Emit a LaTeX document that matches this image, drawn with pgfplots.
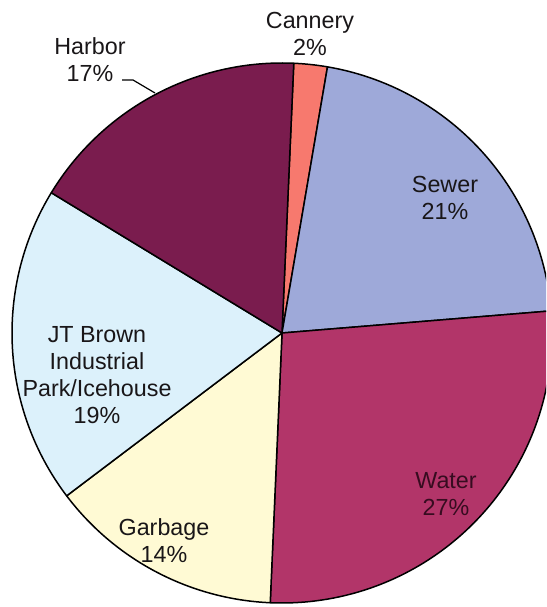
\documentclass[border=0pt]{standalone}
\usepackage{pgfplots}
\pgfplotsset{compat=1.18}
\usepackage{pgfplotstable}
\usepackage{fontspec}
\setmainfont{Liberation Sans}
\definecolor{cHarbor}{RGB}{122,28,78}
\definecolor{cCannery}{RGB}{247,121,110}
\definecolor{cSewer}{RGB}{158,169,217}
\definecolor{cWater}{RGB}{178,53,105}
\definecolor{cGarbage}{RGB}{255,250,212}
\definecolor{cJT}{RGB}{220,241,251}
\definecolor{txt}{RGB}{25,22,24}
\tikzset{lbl/.style={font=\fontsize{23.3}{27}\selectfont, text=txt, align=center}}
% slice percentages, clockwise from the top
\pgfplotstableread{
name cum value
Cannery 0 2
Sewer 2 21
Water 23 27
Garbage 50 14
JTBrown 64 19
Harbor 83 17
}\piedata
\newcommand{\slice}[2]{% row, colour
  \pgfplotstablegetelem{#1}{cum}\of\piedata \let\cum\pgfplotsretval
  \pgfplotstablegetelem{#1}{value}\of\piedata \let\val\pgfplotsretval
  \pgfmathsetmacro\sa{87.5-3.6*\cum}%
  \pgfmathsetmacro\sb{87.5-3.6*(\cum+\val)}%
  \edef\tmp{\noexpand\addplot[fill=#2, draw=black, line width=1.5pt, line join=round,
    data cs=polar, domain=\sb:\sa, samples=80] ({x},{270}) -- (axis cs:0,0) -- cycle;}%
  \tmp
}
\begin{document}
\begin{tikzpicture}
\begin{axis}[
  x=1pt, y=1pt,
  xmin=-282, xmax=264, ymin=-274, ymax=333,
  hide axis, clip=true,
]
\slice{0}{cCannery}
\slice{1}{cSewer}
\slice{2}{cWater}
\slice{3}{cGarbage}
\slice{4}{cJT}
\slice{5}{cHarbor}
\node[lbl] at (axis cs:28,299.5) {Cannery\\2\%};
\node[lbl] at (axis cs:-192,273.5) {Harbor\\17\%};
\node[lbl] at (axis cs:163,135.5) {Sewer\\21\%};
\node[lbl] at (axis cs:-185,-42) {JT Brown\\Industrial\\Park/Icehouse\\19\%};
\node[lbl] at (axis cs:-118,-208) {Garbage\\14\%};
\node[lbl, text={rgb,255:red,55;green,12;blue,32}] at (axis cs:164,-161.5) {Water\\27\%};
\draw[line width=1.2pt] (axis cs:-160,253) -- (axis cs:-149,253) -- (axis cs:-127,240);
\end{axis}
\pgfresetboundingbox
\path (current axis.south west) rectangle (current axis.north east);
\end{tikzpicture}
\end{document}
